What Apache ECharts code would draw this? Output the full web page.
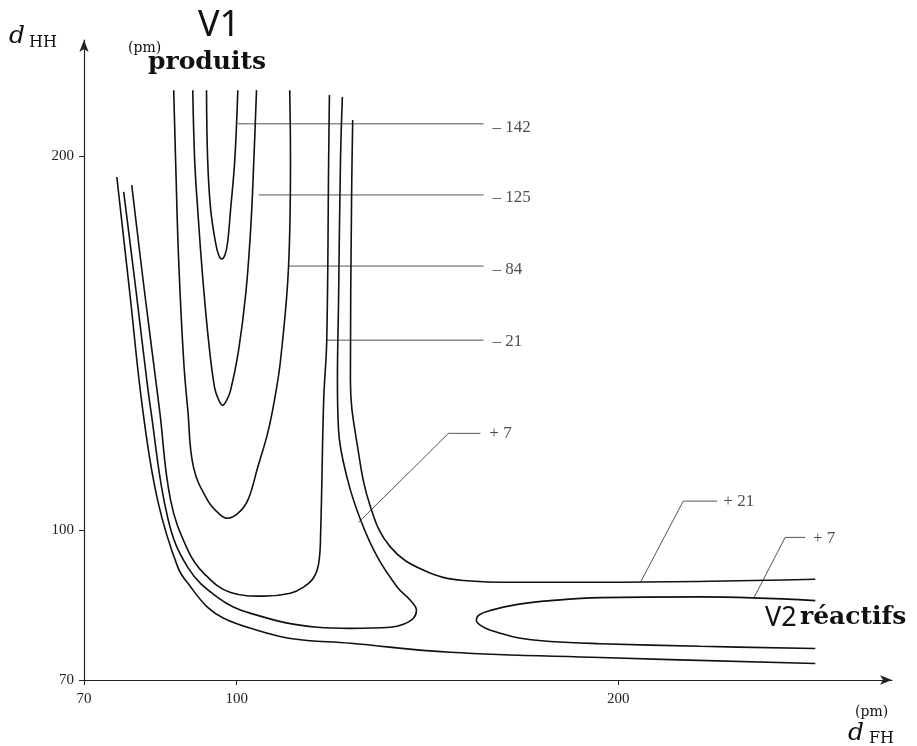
<!DOCTYPE html>
<html>
<head>
<meta charset="utf-8">
<script src="https://cdn.jsdelivr.net/npm/echarts@6/dist/echarts.min.js"></script>
<style>
html,body{margin:0;padding:0;background:#fff;}
#chart{width:917px;height:746px;}
</style>
</head>
<body>
<div id="chart"></div>
<script>
// axis ticks (origin of the drawing is labelled 70)
const xTickValues = [60, 100, 200];
const xTickLabels = ['70', '100', '200'];
const yTickValues = [60, 100, 200];
const yTickLabels = ['70', '100', '200'];

// contour lines [d_FH, d_HH] in pm
const cMinus142 = [[92.1,217.6],[92.4,198.9],[93.2,185.6],[94.5,176.7],[95.3,173.5],[96.1,172.5],[96.9,173.5],[97.6,176.7],[98.4,185.6],[99.5,198.9],[100.3,217.6]];
const cMinus125 = [[88.5,217.6],[89.0,198.9],[89.8,185.6],[91.1,167.6],[92.7,150.0],[94.2,138.2],[95.3,134.8],[96.3,133.4],[97.4,134.8],[98.4,137.4],[100.5,148.1],[102.4,163.4],[103.7,181.0],[104.5,198.9],[105.2,217.6]];
const cMinus84 = [[83.5,217.6],[84.0,198.9],[84.8,172.2],[86.1,145.5],[87.2,132.1],[88.7,116.8],[92.4,108.0],[95.3,104.5],[97.6,103.2],[100.3,104.5],[102.9,108.0],[105.5,116.8],[108.1,125.9],[109.9,134.8],[111.5,145.5],[113.6,170.6],[114.1,198.9],[113.9,217.6]];
const cMinus21 = [[124.3,216.3],[124.1,198.9],[123.6,150.8],[122.8,134.8],[122.0,99.2],[121.5,91.2],[120.2,87.4],[117.5,84.8],[114.1,83.2],[107.1,82.4],[98.4,83.4],[91.4,88.5],[87.2,94.7],[82.7,108.0],[79.8,132.1],[75.9,163.4],[72.5,192.2]];
const cPlus7Products = [[127.7,215.8],[127.2,198.9],[126.7,161.5],[126.4,140.1],[126.7,126.7],[129.1,113.4],[132.5,102.7],[136.9,92.8],[142.1,84.8],[145.5,81.3],[147.1,78.6],[146.3,76.5],[143.7,74.9],[140.3,74.1],[129.8,73.8],[121.2,74.1],[103.7,77.8],[95.0,82.1],[87.2,90.1],[81.9,103.5],[77.5,132.1],[75.5,148.1],[73.7,163.4],[70.4,190.4]];
const cPlus7Reactants = [[251.6,81.2],[221.5,82.2],[195.3,82.0],[182.2,81.2],[173.6,80.2],[166.5,78.6],[163.4,77.3],[162.8,75.9],[163.9,74.6],[166.5,73.3],[173.6,71.3],[182.2,70.3],[195.3,69.7],[221.5,69.0],[251.6,68.4]];
const cPlus21Inner = [[130.4,209.6],[130.1,188.2],[129.8,140.1],[131.7,122.2],[135.1,106.1],[140.3,95.5],[149.0,89.3],[159.4,86.6],[173.6,86.1],[195.3,86.1],[251.6,86.9]];
const cPlus21Outer = [[68.6,194.4],[72.0,163.4],[75.4,132.1],[79.3,108.0],[84.6,90.1],[88.0,84.8],[92.4,79.4],[96.6,76.5],[103.7,73.8],[114.1,71.1],[129.8,69.8],[156.0,67.4],[195.3,66.0],[251.6,64.4]];

// label leaders and energy labels (kJ/mol)
const leaders = [
  [[100.3,208.6],[164.7,208.6]],
  [[105.8,189.6],[164.7,189.6]],
  [[113.6,170.6],[164.7,170.6]],
  [[123.6,150.8],[164.7,150.8]],
  [[131.9,102.1],[155.5,125.9],[163.9,125.9]],
  [[205.8,86.1],[217.0,107.8],[225.9,107.8]],
  [[235.6,82.1],[243.7,98.1],[249.0,98.1]]
];
const labelTexts = ['– 142', '– 125', '– 84', '– 21', '+ 7', '+ 21', '+ 7'];
const labelAnchors = [[167.0,207.5],[167.0,188.9],[167.0,169.8],[167.0,150.4],[166.2,125.9],[227.5,107.8],[251.0,97.7]];

const contours = [cMinus142, cMinus125, cMinus84, cMinus21, cPlus7Products, cPlus7Reactants, cPlus21Inner, cPlus21Outer];

const chart = echarts.init(document.getElementById('chart'), null, {renderer: 'canvas'});

const series = [];
contours.forEach(function (c) {
  series.push({
    type: 'line', data: c, smooth: 0.4, showSymbol: false, symbol: 'none',
    lineStyle: {color: '#111', width: 1.6}, silent: true, z: 3
  });
});
leaders.forEach(function (l) {
  series.push({
    type: 'line', data: l, smooth: false, showSymbol: false, symbol: 'none',
    lineStyle: {color: '#555', width: 1}, silent: true, z: 2
  });
});
series.push({
  type: 'scatter', symbolSize: 0, silent: true,
  data: labelAnchors.map(function (p, i) { return {value: p, name: labelTexts[i]}; }),
  label: {show: true, position: 'right', distance: 0, formatter: '{b}',
    fontFamily: 'Liberation Serif', fontSize: 17, color: '#222'}
});

function tickFmt(values, labels) {
  return function (v) {
    const i = values.indexOf(Math.round(v));
    return i >= 0 ? labels[i] : '';
  };
}

chart.setOption({
  animation: false,
  backgroundColor: '#fff',
  grid: {left: 84, right: 25, top: 40, bottom: 66, containLabel: false, outerBoundsMode: 'none'},
  xAxis: {
    type: 'value', min: 60, max: 271.7,
    splitLine: {show: false},
    axisLine: {show: true, onZero: false, symbol: ['none', 'arrow'], symbolSize: [7, 12],
      lineStyle: {color: '#222', width: 1.2}},
    axisTick: {show: true, customValues: xTickValues, length: 5, lineStyle: {color: '#222'}},
    axisLabel: {show: true, customValues: xTickValues, formatter: tickFmt(xTickValues, xTickLabels),
      margin: 12, fontFamily: 'Liberation Serif', fontSize: 15, color: '#222'}
  },
  yAxis: {
    type: 'value', min: 60, max: 231,
    splitLine: {show: false},
    axisLine: {show: true, onZero: false, symbol: ['none', 'arrow'], symbolSize: [7, 12],
      lineStyle: {color: '#222', width: 1.2}},
    axisTick: {show: true, customValues: yTickValues, length: 5, lineStyle: {color: '#222'}},
    axisLabel: {show: true, customValues: yTickValues, formatter: tickFmt(yTickValues, yTickLabels),
      margin: 10, fontFamily: 'Liberation Serif', fontSize: 15, color: '#222'}
  },
  graphic: [
    {type: 'text', left: 9, top: 24, style: {text: 'd', font: 'italic 25px "DejaVu Serif"', fill: '#111'}},
    {type: 'text', left: 29, top: 35, style: {text: 'HH', font: '16px "DejaVu Serif"', fill: '#111'}},
    {type: 'text', left: 128, top: 41, style: {text: '(pm)', font: '14px "DejaVu Serif"', fill: '#111'}},
    {type: 'text', left: 198, top: 8, style: {text: 'V1', font: '36px "Noto Sans"', fill: '#111'}},
    {type: 'text', left: 148, top: 50, style: {text: 'produits', font: 'bold 25px "DejaVu Serif"', fill: '#111'}},
    {type: 'text', left: 765, top: 605, style: {text: 'V2', font: '27px "Noto Sans"', fill: '#111'}},
    {type: 'text', left: 800, top: 605, style: {text: 'réactifs', font: 'bold 25px "DejaVu Serif"', fill: '#111'}},
    {type: 'text', left: 855, top: 705, style: {text: '(pm)', font: '14px "DejaVu Serif"', fill: '#111'}},
    {type: 'text', left: 848, top: 721, style: {text: 'd', font: 'italic 25px "DejaVu Serif"', fill: '#111'}},
    {type: 'text', left: 869, top: 731, style: {text: 'FH', font: '16px "DejaVu Serif"', fill: '#111'}}
  ],
  series: series
});
</script>
</body>
</html>
